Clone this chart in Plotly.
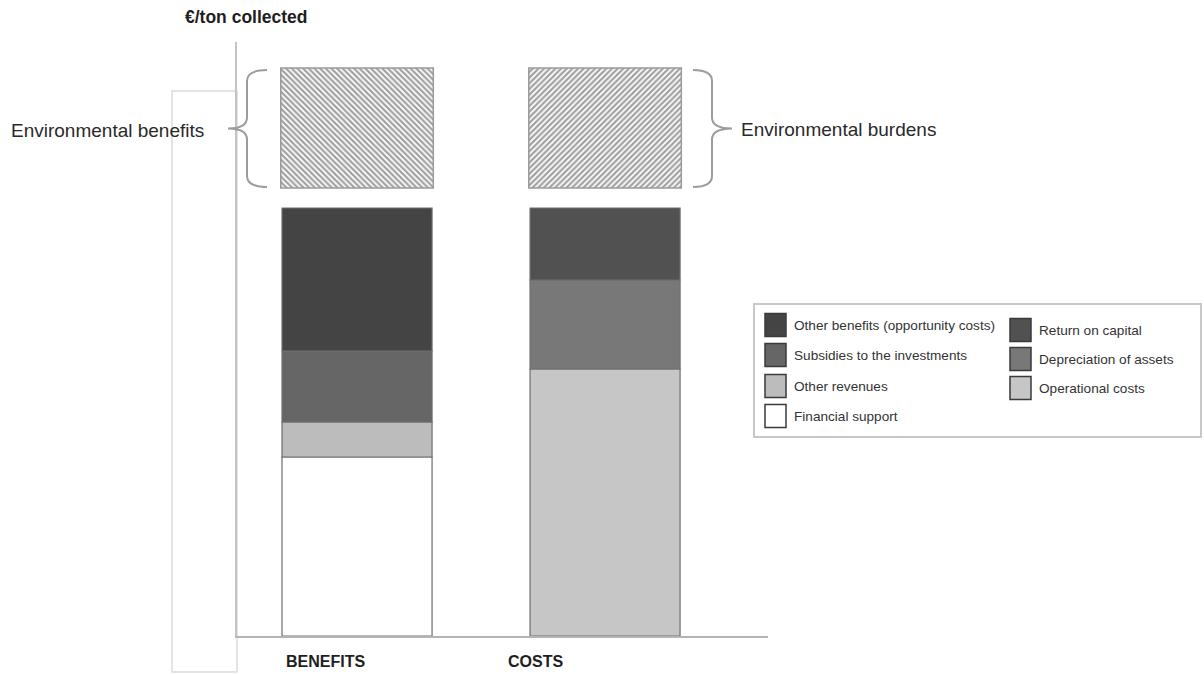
import numpy as np
import plotly.graph_objects as go

# ---- data -------------------------------------------------------------
categories = ["BENEFITS", "COSTS"]

benefit_names = ["Financial support", "Other revenues",
                 "Subsidies to the investments", "Other benefits (opportunity costs)"]
benefit_values = [17.9, 3.5, 7.1, 14.3]
benefit_colors = ["#ffffff", "#bcbcbc", "#666666", "#444444"]

cost_names = ["Operational costs", "Depreciation of assets", "Return on capital"]
cost_values = [26.7, 8.9, 7.2]
cost_colors = ["#c6c6c6", "#787878", "#515151"]

env_labels = ["Environmental benefits", "Environmental burdens"]
env_base = [44.8, 44.8]
env_values = [12.0, 12.0]
env_hatch = ["\\", "/"]

y_title = "€/ton collected"

# ---- layout geometry --------------------------------------------------
W, H = 1204, 674
PL, PR, PT, PB = 237, 768, 42, 636      # plot area in pixels
Y_MAX = 59.4
X_RANGE = [-0.484, 1.657]
BAR_W = 0.605
FONT = "Liberation Sans, Arial, sans-serif"


def xp(px):
    return (px - PL) / (PR - PL)


def yp(py):
    return (PB - py) / (PB - PT)


fig = go.Figure()

# stacked segments of the two columns
for xi, (names, values, colors) in enumerate([
        (benefit_names, benefit_values, benefit_colors),
        (cost_names, cost_values, cost_colors)]):
    bases = np.concatenate([[0], np.cumsum(values)[:-1]])
    for name, v, b, c in zip(names, values, bases, colors):
        fig.add_trace(go.Bar(
            x=[xi], y=[v], base=[b], width=BAR_W, name=name,
            marker=dict(color=c, line=dict(color="#6e6e6e", width=1.2)),
            showlegend=False))

# hatched environmental boxes above the columns
for xi, (lab, b, v, hs) in enumerate(zip(env_labels, env_base, env_values, env_hatch)):
    fig.add_trace(go.Bar(
        x=[xi], y=[v], base=[b], width=BAR_W + 0.01, name=lab,
        marker=dict(color="white",
                    line=dict(color="#9a9a9a", width=1.5),
                    pattern=dict(shape=hs, fgcolor="#444444", bgcolor="white",
                                 size=4, solidity=0.55)),
        showlegend=False))

shapes = []
annotations = []


# curly braces spanning the environmental boxes
def brace(end_x, stem_x, tip_x, y_top, y_bot):
    y_mid = (y_top + y_bot) / 2
    r = 11
    pts = [
        f"M{xp(end_x)},{yp(y_top)}",
        f"Q{xp(stem_x)},{yp(y_top)} {xp(stem_x)},{yp(y_top + r)}",
        f"L{xp(stem_x)},{yp(y_mid - r)}",
        f"Q{xp(stem_x)},{yp(y_mid)} {xp(tip_x)},{yp(y_mid)}",
        f"Q{xp(stem_x)},{yp(y_mid)} {xp(stem_x)},{yp(y_mid + r)}",
        f"L{xp(stem_x)},{yp(y_bot - r)}",
        f"Q{xp(stem_x)},{yp(y_bot)} {xp(end_x)},{yp(y_bot)}",
    ]
    return dict(type="path", xref="paper", yref="paper", path=" ".join(pts),
                line=dict(color="#9c9c9c", width=2))


top_px = PB - (env_base[0] + env_values[0]) * (PB - PT) / Y_MAX + 2
bot_px = PB - env_base[0] * (PB - PT) / Y_MAX - 1
shapes.append(brace(267, 247, 228, top_px, bot_px))
shapes.append(brace(693, 712, 732, top_px, bot_px))

# light frame left of the value axis
shapes.append(dict(type="rect", xref="paper", yref="paper",
                   x0=xp(172), x1=xp(237), y0=yp(672), y1=yp(91),
                   line=dict(color="#dcdcdc", width=1.5), layer="below"))

# side labels for the braces
annotations.append(dict(text=env_labels[0], xref="paper", yref="paper",
                        x=xp(9), y=yp(130), xanchor="left", yanchor="middle",
                        showarrow=False, font=dict(family=FONT, size=19, color="#2a2a2a")))
annotations.append(dict(text=env_labels[1], xref="paper", yref="paper",
                        x=xp(739), y=yp(129), xanchor="left", yanchor="middle",
                        showarrow=False, font=dict(family=FONT, size=19, color="#2a2a2a")))

# axis title
annotations.append(dict(text=f"<b>{y_title}</b>", xref="paper", yref="paper",
                        x=xp(246), y=yp(17), xanchor="center", yanchor="middle",
                        showarrow=False, font=dict(family=FONT, size=17.5, color="#1e1e1e")))

# category labels under the columns
for xi, (cat, shift) in enumerate(zip(categories, [-32, -70])):
    annotations.append(dict(text=f"<b>{cat}</b>", xref="x", yref="paper",
                            x=xi, xshift=shift, y=yp(661), xanchor="center",
                            yanchor="middle", showarrow=False,
                            font=dict(family=FONT, size=16, color="#1e1e1e")))

# legend box with two columns
shapes.append(dict(type="rect", xref="paper", yref="paper",
                   x0=xp(754), x1=xp(1201), y0=yp(437), y1=yp(304),
                   line=dict(color="#c8c8c8", width=2), fillcolor="white"))

legend_cols = [
    (list(reversed(benefit_names)), list(reversed(benefit_colors)), 765, [325, 355, 386, 416]),
    (list(reversed(cost_names)), list(reversed(cost_colors)), 1010, [330, 359, 388]),
]
for names, colors, sx, rows in legend_cols:
    for name, c, ry in zip(names, colors, rows):
        shapes.append(dict(type="rect", xref="paper", yref="paper",
                           x0=xp(sx), x1=xp(sx + 21), y0=yp(ry + 11.5), y1=yp(ry - 11.5),
                           fillcolor=c, line=dict(color="#3a3a3a", width=1.5)))
        annotations.append(dict(text=name, xref="paper", yref="paper",
                                x=xp(sx + 27), y=yp(ry), xanchor="left", yanchor="middle",
                                showarrow=False,
                                font=dict(family=FONT, size=13.6, color="#333333")))

fig.update_layout(
    width=W, height=H,
    margin=dict(l=PL, r=W - PR, t=PT, b=H - PB, pad=0),
    paper_bgcolor="white", plot_bgcolor="white",
    barmode="overlay",
    showlegend=False,
    xaxis=dict(range=X_RANGE, showticklabels=False, ticks="", showgrid=False,
               zeroline=False, showline=True, linecolor="#b4b4b4", linewidth=2,
               fixedrange=True),
    yaxis=dict(range=[0, Y_MAX], showticklabels=False, ticks="", showgrid=False,
               zeroline=False, showline=True, linecolor="#c4c4c4", linewidth=2,
               fixedrange=True),
    shapes=shapes,
    annotations=annotations,
)

fig.write_html("out.html")
